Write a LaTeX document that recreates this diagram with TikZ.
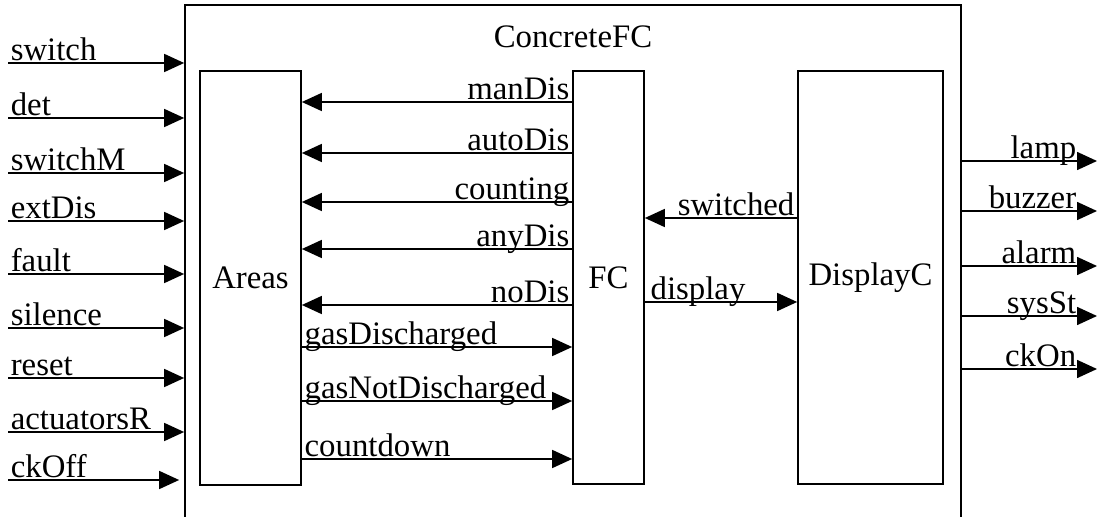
\documentclass[tikz,border=0pt]{standalone}
\usepackage{fontspec}
\setmainfont{Liberation Serif}
\usepackage{tikz}
\usetikzlibrary{arrows.meta}

\tikzset{
	blk/.style={draw, line width=0.85pt, inner sep=0pt},
	sig/.style={-{Triangle[length=10pt,width=9pt]}, line width=0.8pt},
	lbl/.style={inner sep=0pt, font=\fontsize{16.4pt}{19pt}\selectfont},
	lw/.style={lbl, pos=0, anchor=base west, xshift=1pt, yshift=1pt},
	le/.style={lbl, pos=0, anchor=base east, xshift=-1pt, yshift=1pt},
	lo/.style={lbl, pos=1, anchor=base east, xshift=-10pt, yshift=1pt}
}

\begin{document}
\begin{tikzpicture}[x=0.5pt,y=-0.5pt]
	\useasboundingbox (0,0) rectangle (1097,517);
	\node[blk, minimum width=388pt, minimum height=270pt] (outer) at (573,275) {};
	\node[lbl, anchor=base] (title) at (573,48) {ConcreteFC};
	\node[blk, lbl, minimum width=50.5pt, minimum height=207pt] (areas) at (250.5,278) {Areas};
	\node[blk, lbl, minimum width=35.5pt, minimum height=206.5pt] (fc) at (608.5,277.5) {FC};
	\node[blk, lbl, minimum width=72.5pt, minimum height=206.5pt] (disp) at (870.5,277.5) {DisplayC};

	\coordinate (inSwitch) at (8,63);
	\coordinate (inDet) at (8,118);
	\coordinate (inSwitchM) at (8,173);
	\coordinate (inExtDis) at (8,221);
	\coordinate (inFault) at (8,274);
	\coordinate (inSilence) at (8,328);
	\coordinate (inReset) at (8,378);
	\coordinate (inActR) at (8,432);
	\coordinate (inCkOff) at (8,480);
	\draw[sig] (inSwitch) -- node[lw] (lSwitch) {switch} (inSwitch -| outer.west);
	\draw[sig] (inDet) -- node[lw] (lDet) {det} (inDet -| outer.west);
	\draw[sig] (inSwitchM) -- node[lw] (lSwitchM) {switchM} (inSwitchM -| outer.west);
	\draw[sig] (inExtDis) -- node[lw] (lExtDis) {extDis} (inExtDis -| outer.west);
	\draw[sig] (inFault) -- node[lw] (lFault) {fault} (inFault -| outer.west);
	\draw[sig] (inSilence) -- node[lw] (lSilence) {silence} (inSilence -| outer.west);
	\draw[sig] (inReset) -- node[lw] (lReset) {reset} (inReset -| outer.west);
	\draw[sig] (inActR) -- node[lw] (lActR) {actuatorsR} (inActR -| outer.west);
	\draw[sig, shorten >=2.5pt] (inCkOff) -- node[lw] (lCkOff) {ckOff} (inCkOff -| outer.west);

	\draw[sig] (fc.west |- 0,102) -- node[le] (lManDis) {manDis} (areas.east |- 0,102);
	\draw[sig] (fc.west |- 0,153) -- node[le] (lAutoDis) {autoDis} (areas.east |- 0,153);
	\draw[sig] (fc.west |- 0,202) -- node[le] (lCounting) {counting} (areas.east |- 0,202);
	\draw[sig] (fc.west |- 0,249) -- node[le] (lAnyDis) {anyDis} (areas.east |- 0,249);
	\draw[sig] (fc.west |- 0,305) -- node[le] (lNoDis) {noDis} (areas.east |- 0,305);
	\draw[sig] (areas.east |- 0,347) -- node[lw] (lGasD) {gasDischarged} (fc.west |- 0,347);
	\draw[sig] (areas.east |- 0,401) -- node[lw] (lGasND) {gasNotDischarged} (fc.west |- 0,401);
	\draw[sig] (areas.east |- 0,459) -- node[lw] (lCountdown) {countdown} (fc.west |- 0,459);

	\draw[sig] (disp.west |- 0,218) -- node[le] (lSwitched) {switched} (fc.east |- 0,218);
	\draw[sig] (fc.east |- 0,302) -- node[lw, xshift=1.5pt] (lDisplay) {display} (disp.west |- 0,302);

	\coordinate (outLamp) at (1097,161);
	\coordinate (outBuzzer) at (1097,211);
	\coordinate (outAlarm) at (1097,266);
	\coordinate (outSysSt) at (1097,316);
	\coordinate (outCkOn) at (1097,369);
	\draw[sig] (outer.east |- outLamp) -- node[lo] (lLamp) {lamp} (outLamp);
	\draw[sig] (outer.east |- outBuzzer) -- node[lo] (lBuzzer) {buzzer} (outBuzzer);
	\draw[sig] (outer.east |- outAlarm) -- node[lo] (lAlarm) {alarm} (outAlarm);
	\draw[sig] (outer.east |- outSysSt) -- node[lo] (lSysSt) {sysSt} (outSysSt);
	\draw[sig] (outer.east |- outCkOn) -- node[lo] (lCkOn) {ckOn} (outCkOn);
\end{tikzpicture}
\end{document}
